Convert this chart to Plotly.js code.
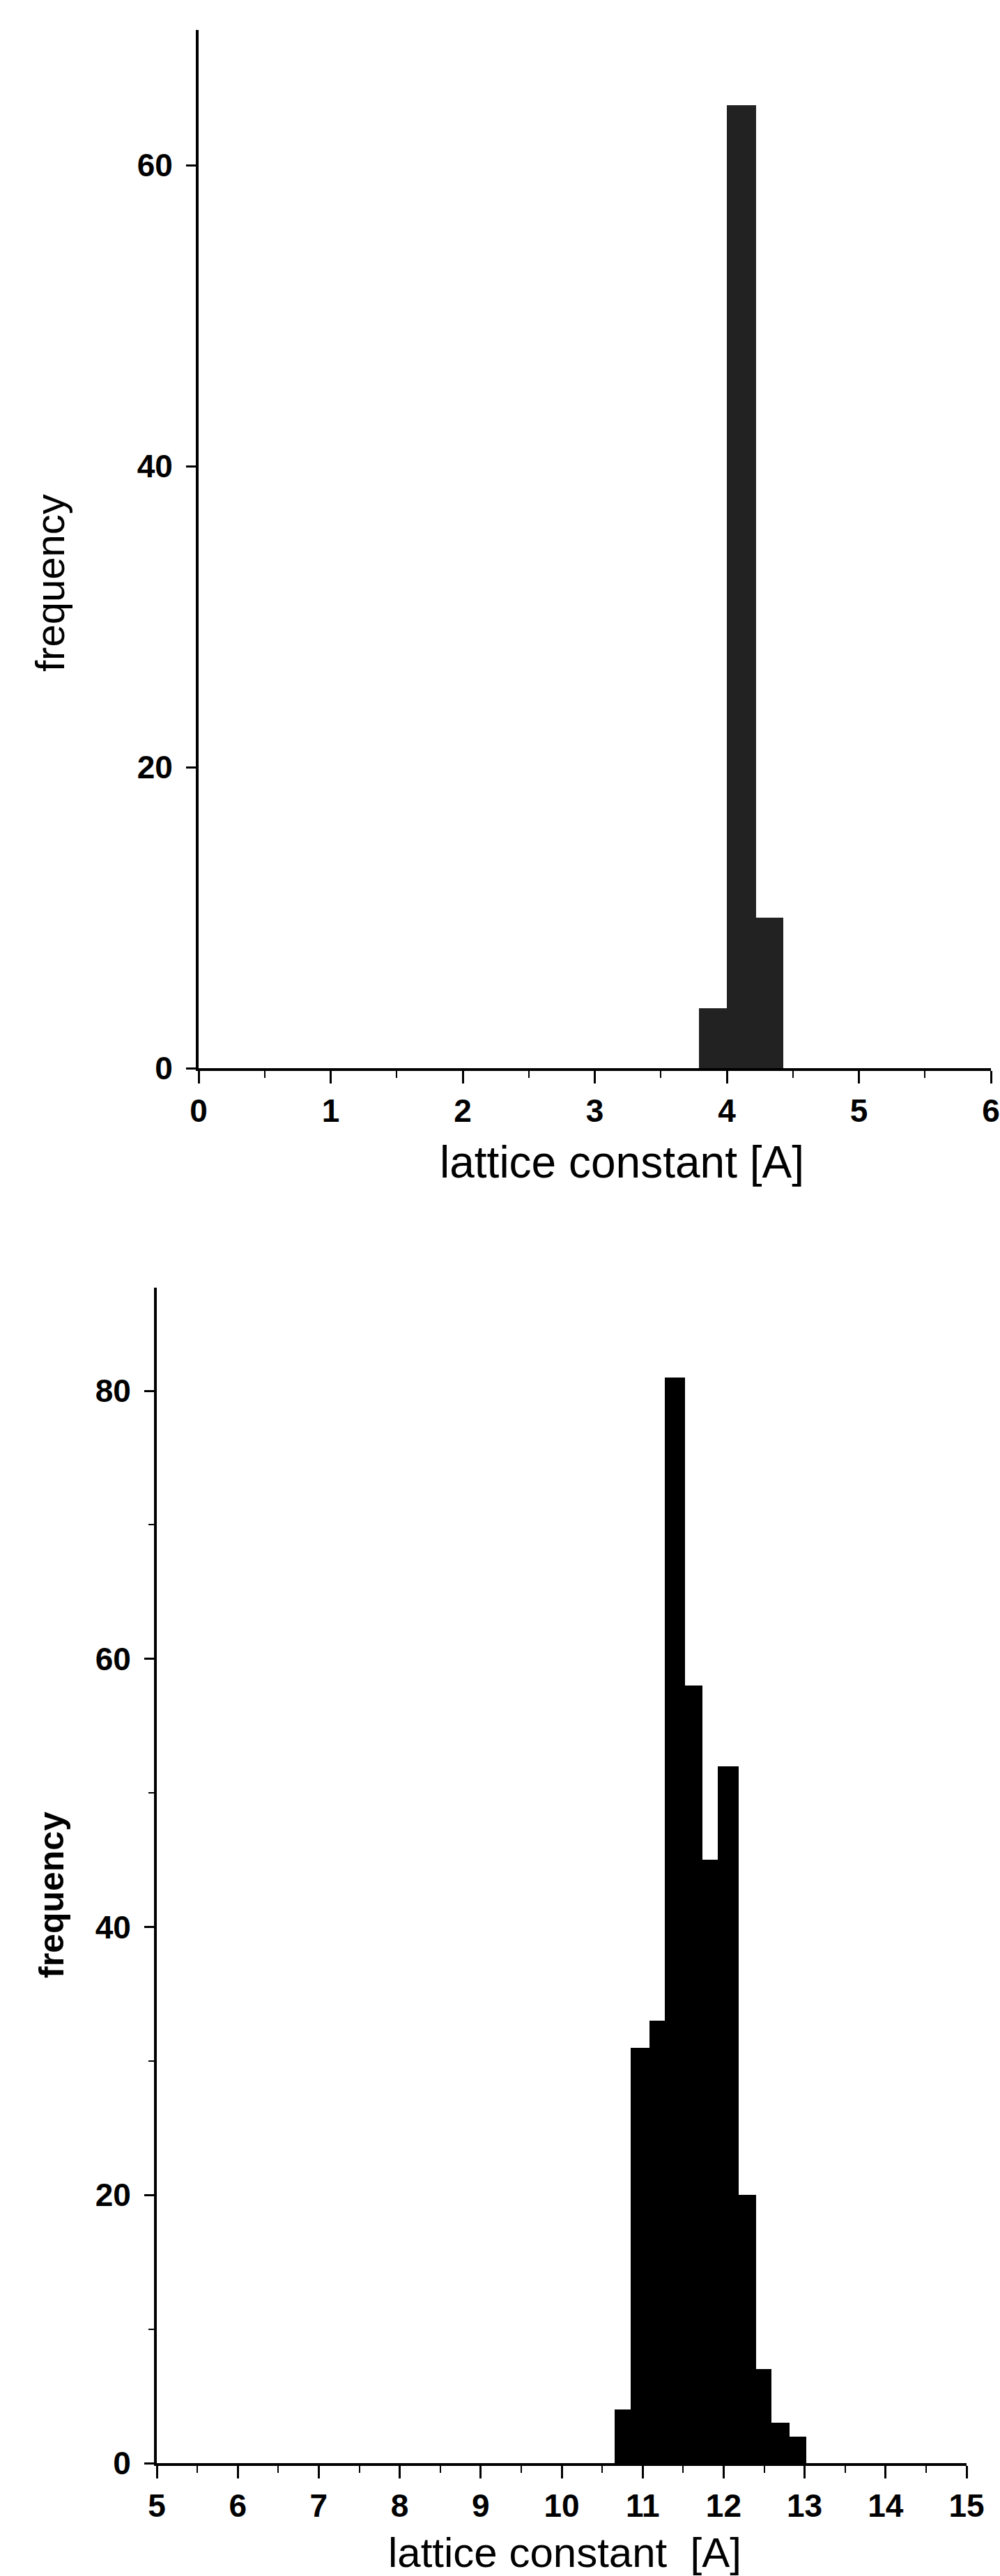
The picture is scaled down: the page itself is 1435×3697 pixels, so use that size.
<!DOCTYPE html>
<html>
<head>
<meta charset="utf-8">
<script src="https://cdn.plot.ly/plotly-3.0.1.min.js"></script>
<style>
  html, body { margin: 0; padding: 0; background: #ffffff; }
  #chart { width: 1435px; height: 3697px; }
</style>
</head>
<body>
<div id="chart"></div>
<script>
// ---- data ----
const xTitleTop = 'lattice constant [A]';
const xTitleBottom = 'lattice constant  [A]';
const yTitle = 'frequency';

// top histogram (lattice constant ~4 A)
const topBinEdges = [3.79, 4.00, 4.22, 4.43];
const topCounts = [4, 64, 10];
const topXTicks = [0, 1, 2, 3, 4, 5, 6];
const topYTicks = [0, 20, 40, 60];

// bottom histogram (lattice constant ~11-13 A)
const bottomBinEdges = [10.65, 10.85, 11.08, 11.27, 11.52, 11.74, 11.93, 12.19, 12.40, 12.59, 12.81, 13.02];
const bottomCounts = [4, 31, 33, 81, 58, 45, 52, 20, 7, 3, 2];
const bottomXTicks = [5, 6, 7, 8, 9, 10, 11, 12, 13, 14, 15];
const bottomYTicks = [0, 20, 40, 60, 80];

// ---- helpers ----
function mids(edges) { return edges.slice(0, -1).map((e, i) => (e + edges[i + 1]) / 2); }
function widths(edges) { return edges.slice(0, -1).map((e, i) => edges[i + 1] - e); }

const W = 1435, H = 3697;
const px = v => v / W;
const py = v => 1 - v / H;

const tickFont = { family: 'Liberation Sans Narrow, Arial Narrow, Liberation Sans, Arial, sans-serif', size: 46, color: '#000', weight: 'bold' };
const titleFamily = 'Liberation Sans, Arial, sans-serif';

const traces = [
  {
    type: 'bar', x: mids(topBinEdges), y: topCounts, width: widths(topBinEdges),
    marker: { color: '#222222', line: { width: 0 } }, xaxis: 'x', yaxis: 'y', hoverinfo: 'x+y'
  },
  {
    type: 'bar', x: mids(bottomBinEdges), y: bottomCounts, width: widths(bottomBinEdges),
    marker: { color: '#000000', line: { width: 0 } }, xaxis: 'x2', yaxis: 'y2', hoverinfo: 'x+y'
  }
];

function xAxis(domain, range, ticks, anchor) {
  return {
    domain: domain, range: range, anchor: anchor,
    tickmode: 'array', tickvals: ticks, ticktext: ticks.map(String),
    showline: true, linewidth: 4, linecolor: '#000',
    ticks: 'outside', ticklen: 18, tickwidth: 3, tickcolor: '#000',
    ticklabelstandoff: 0,
    minor: { ticks: 'outside', ticklen: 10, tickwidth: 2, tickcolor: '#000', dtick: 0.5, tick0: range[0], showgrid: false },
    showgrid: false, zeroline: false, tickfont: tickFont, fixedrange: true
  };
}
function yAxis(domain, range, ticks, anchor, minorDtick) {
  const ax = {
    domain: domain, range: range, anchor: anchor,
    tickmode: 'array', tickvals: ticks, ticktext: ticks.map(String),
    showline: true, linewidth: 4, linecolor: '#000',
    ticks: 'outside', ticklen: 14, tickwidth: 3, tickcolor: '#000',
    ticklabelstandoff: 10,
    showgrid: false, zeroline: false, tickfont: tickFont, fixedrange: true
  };
  if (minorDtick) {
    ax.minor = { ticks: 'outside', ticklen: 8, tickwidth: 2, tickcolor: '#000', dtick: minorDtick, tick0: 0, showgrid: false };
  }
  return ax;
}

const layout = {
  width: W, height: H,
  margin: { l: 0, r: 0, t: 0, b: 0, pad: 0 },
  paper_bgcolor: '#ffffff', plot_bgcolor: '#ffffff',
  showlegend: false, bargap: 0,
  font: { family: titleFamily, color: '#000' },
  xaxis: xAxis([px(285), px(1422)], [0, 6], topXTicks, 'y'),
  yaxis: yAxis([py(1533), py(43)], [0, 69], topYTicks, 'x', null),
  xaxis2: xAxis([px(225), px(1387)], [5, 15], bottomXTicks, 'y2'),
  yaxis2: yAxis([py(3535), py(1848)], [0, 87.7], bottomYTicks, 'x2', 10),
  annotations: [
    { text: xTitleTop, xref: 'paper', yref: 'paper', x: px(893), y: py(1668), xanchor: 'center', yanchor: 'middle', showarrow: false,
      font: { family: titleFamily, size: 64, color: '#000' } },
    { text: yTitle, xref: 'paper', yref: 'paper', x: px(71), y: py(837), xanchor: 'center', yanchor: 'middle', showarrow: false, textangle: -90,
      font: { family: titleFamily, size: 58, color: '#000' } },
    { text: xTitleBottom, xref: 'paper', yref: 'paper', x: px(810), y: py(3663), xanchor: 'center', yanchor: 'middle', showarrow: false,
      font: { family: titleFamily, size: 60, color: '#000' } },
    { text: yTitle, xref: 'paper', yref: 'paper', x: px(74), y: py(2720), xanchor: 'center', yanchor: 'middle', showarrow: false, textangle: -90,
      font: { family: titleFamily, size: 50, color: '#000', weight: 'bold' } }
  ]
};

Plotly.newPlot('chart', traces, layout, { displayModeBar: false, staticPlot: true });
</script>
</body>
</html>
